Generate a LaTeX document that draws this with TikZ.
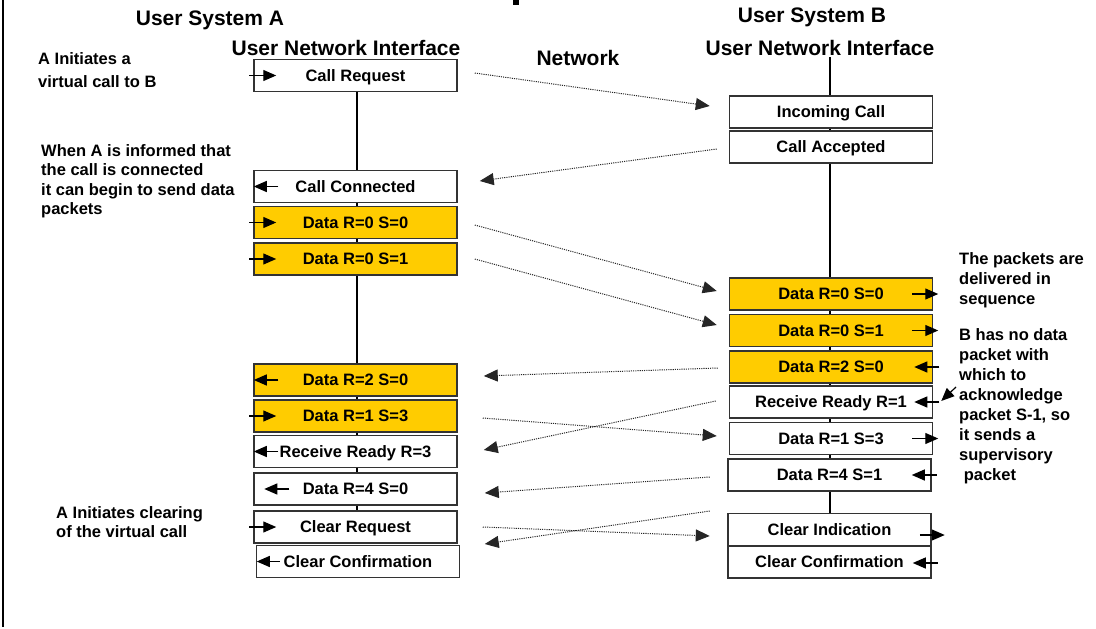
\documentclass[tikz,border=0pt]{standalone}
\usepackage{fontspec}
\setmainfont{Liberation Sans}
\usetikzlibrary{arrows.meta,backgrounds}
\definecolor{pktgold}{HTML}{FFCC00}
\definecolor{edgegray}{HTML}{333333}
\begin{document}
\begin{tikzpicture}[x=1pt,y=-1pt,
  every node/.style={inner sep=0pt},
  pkt/.style={draw=edgegray, line width=1.5pt, minimum width=203pt, minimum height=32pt,
    fill=white, text height=11.8pt, text depth=0pt,
    font=\fontsize{16.5}{19}\selectfont\bfseries},
  gold/.style={fill=pktgold},
  head/.style={font=\fontsize{21}{25}\selectfont\bfseries, anchor=base},
  note/.style={font=\fontsize{16.5}{19.5}\selectfont\bfseries, align=left, anchor=north west},
  sig/.style={draw=black!85, line width=1pt, dash pattern=on 1.1pt off 1.1pt,
    -{Triangle[length=14pt,width=12pt]}},
  tick/.style={line width=1.2pt, -{Triangle[length=13pt,width=11pt]}},
]
\useasboundingbox (0,0) rectangle (1096,629);

% frame edge and title fragment
\draw[line width=2.5pt] (3,0) -- (3,627);
\fill (513,0) rectangle (519,5);

% headings
\node[head] (sysA) at (210,25) {User System A};
\node[head] (uniA) at (346,56) {User Network Interface};
\node[head] (net)  at (578,65) {Network};
\node[head] (sysB) at (812,22) {User System B};
\node[head] (uniB) at (820,55) {User Network Interface};
\coordinate (btop) at (830,57);

% side notes
\node[note, font=\fontsize{16.5}{23.5}\selectfont\bfseries] (n1) at (38,52) {A Initiates a\\virtual call to B};
\node[note] (n2) at (41,144) {When A is informed that\\the call is connected\\it can begin to send data\\packets};
\node[note] (n3) at (56,506) {A Initiates clearing\\of the virtual call};
\node[note, font=\fontsize{16.5}{20}\selectfont\bfseries] (n4) at (959,252) {The packets are\\delivered in\\sequence};
\node[note, font=\fontsize{16.5}{20}\selectfont\bfseries] (n5) at (959,328) {B has no data\\packet with\\which to\\acknowledge\\packet S-1, so\\it sends a\\supervisory\\\ packet};
\coordinate (hint) at (956,387);

% packets at interface A
\node[pkt] (cr)   at (355.5,75.5) {Call Request};
\node[pkt] (cc)   at (355.5,186.5) {Call Connected};
\node[pkt,gold] (d00a) at (355.5,222.5) {Data R=0 S=0};
\node[pkt,gold] (d01a) at (355.5,259) {Data R=0 S=1};
\node[pkt,gold] (d20a) at (355.5,380) {Data R=2 S=0};
\node[pkt,gold] (d13a) at (355.5,416) {Data R=1 S=3};
\node[pkt] (rr3)  at (355.5,451.5) {Receive Ready R=3};
\node[pkt] (d40)  at (355.5,489) {Data R=4 S=0};
\node[pkt] (clrq) at (355.5,527) {Clear Request};
\node[pkt] (ccfa) at (358,561.5) {Clear Confirmation};

% packets at interface B
\node[pkt] (ic)   at (831,112) {Incoming Call};
\node[pkt] (ca)   at (831,147) {Call Accepted};
\node[pkt,gold] (d00b) at (831,294) {Data R=0 S=0};
\node[pkt,gold] (d01b) at (831,330.5) {Data R=0 S=1};
\node[pkt,gold] (d20b) at (831,367) {Data R=2 S=0};
\node[pkt] (rr1)  at (831,402) {Receive Ready R=1};
\node[pkt] (d13b) at (831,438.5) {Data R=1 S=3};
\node[pkt] (d41)  at (829.5,475) {Data R=4 S=1};
\node[pkt] (ci)   at (829.5,529.5) {Clear Indication};
\node[pkt] (ccfb) at (829.5,562) {Clear Confirmation};

% time lines
\begin{scope}[on background layer]
  \draw[line width=1.2pt] ([xshift=1.5pt]cr.south) -- ([xshift=1.5pt]clrq.south);
  \draw[line width=1.2pt] (btop) -- ([xshift=0.5pt]ci.north);
\end{scope}

% packets crossing the network
\draw[sig] ([shift={(17,-2.5)}]cr.east)    -- ([shift={(-19,-6)}]ic.west);
\draw[sig] ([shift={(-12,2)}]ca.west)      -- ([shift={(22,-5.5)}]cc.east);
\draw[sig] ([shift={(17,2.5)}]d00a.east)   -- ([shift={(-12,-3)}]d00b.west);
\draw[sig] ([shift={(17,0)}]d01a.east)     -- ([shift={(-12,-5.5)}]d01b.west);
\draw[sig] ([shift={(-11,1)}]d20b.west)    -- ([shift={(26,-4)}]d20a.east);
\draw[sig] ([shift={(25,2)}]d13a.east)     -- ([shift={(-12,-2.5)}]d13b.west);
\draw[sig] ([shift={(-13,-1)}]rr1.west)    -- ([shift={(26,-1.5)}]rr3.east);
\draw[sig] ([shift={(-17.5,2)}]d41.west)   -- ([shift={(27,4)}]d40.east);
\draw[sig] ([shift={(25,0)}]clrq.east)     -- ([shift={(-17.5,6.5)}]ci.west);
\draw[sig] ([shift={(-17.5,-18.5)}]ci.west) -- ([shift={(27,17)}]clrq.east);

% direction marks at interface A
\foreach \p in {cr,d00a,d01a,d13a,clrq}
  \draw[tick] ([xshift=-4pt]\p.west) -- ([xshift=23pt]\p.west);
\foreach \p in {cc,d20a,rr3}
  \draw[tick] ([xshift=25pt]\p.west) -- ([xshift=0.5pt]\p.west);
\draw[tick] ([xshift=36pt]d40.west) -- ([xshift=11pt]d40.west);
\draw[tick] ([xshift=24pt]ccfa.west) -- ([xshift=1pt]ccfa.west);

% direction marks at interface B
\foreach \p in {d00b,d01b,d13b}
  \draw[tick] ([xshift=-21pt]\p.east) -- ([xshift=5pt]\p.east);
\foreach \p in {d20b,rr1}
  \draw[tick] ([xshift=6pt]\p.east) -- ([xshift=-19pt]\p.east);
\draw[tick] ([xshift=5pt]d41.east) -- ([xshift=-20pt]d41.east);
\draw[tick] ([shift={(-12,5.5)}]ci.east) -- ([shift={(13,5.5)}]ci.east);
\draw[tick] ([shift={(6,1)}]ccfb.east) -- ([shift={(-19,1)}]ccfb.east);
\draw[tick] (hint) -- ([shift={(8,-1)}]rr1.east);
\end{tikzpicture}
\end{document}
